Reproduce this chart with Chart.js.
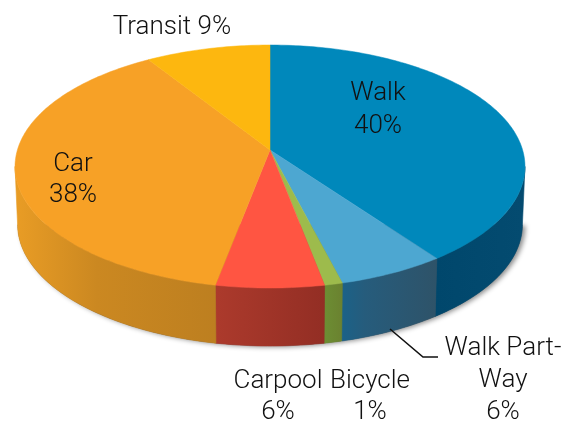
<!DOCTYPE html>
<html><head><meta charset="utf-8">
<style>html,body{margin:0;padding:0;background:#fff}canvas{display:block}</style>
<script src="https://cdn.jsdelivr.net/npm/chart.js@4"></script>
</head><body><canvas id="c" width="576" height="425"></canvas>
<script>
const categories = ["Walk","Walk Part-Way","Bicycle","Carpool","Car","Transit"];
const shares = [40,6,1,6,38,9];
const topColors = ["#0088BB","#4DA7D1","#9DBB4C","#FF5542","#F7A126","#FDB70F"];
const wallLeft = ["#00476C","#1B6288","#6C8E33","#AC3A2C","#E89C25","#FDB70F"];
const wallRight = ["#044B70","#2E5369","#6B8230","#932E24","#BD7F20","#FDB70F"];
const labelLines = [["Walk","40%"],["Walk Part-","Way","6%"],["Bicycle","1%"],["Carpool","6%"],["Car","38%"],["Transit 9%"]];
const labelAt = [[378,100,33],[503,355,32],[370,388,31],[278,388,31],[73,171,31],[172,34,0]];

const SX=1.684, SY=0.795, P=0.136, DEPTH=58, SHRINK=0.99;
function proj(el,a,low){
  const u=Math.cos(a), v=Math.sin(a), d=1-P*v, R=el.outerRadius;
  let x=SX*R*u/d, y=SY*R*v/d;
  if(low){x*=SHRINK; y+=DEPTH;}
  return [el.x+x, el.y+y];
}
function rim(ctx,el,a0,a1,low){
  const n=Math.max(2,Math.ceil(Math.abs(a1-a0)*60));
  for(let i=0;i<=n;i++){const p=proj(el,a0+(a1-a0)*i/n,low);ctx.lineTo(p[0],p[1]);}
}
const pie3d={id:'pie3d',beforeDatasetsDraw(chart){
  const ctx=chart.ctx, els=chart.getDatasetMeta(0).data, T=Math.PI*2;
  const A0=P, A1=Math.PI-P, e0=els[0];
  // soft drop shadow under the body
  ctx.save();
  ctx.shadowColor='rgba(0,0,0,0.45)';ctx.shadowBlur=5;ctx.shadowOffsetX=3;ctx.shadowOffsetY=1;
  ctx.fillStyle='#555';ctx.beginPath();
  rim(ctx,e0,A0,A1,true);ctx.closePath();ctx.fill();
  ctx.restore();
  // side walls
  els.forEach((el,i)=>{
    let s=el.startAngle,e=el.endAngle;
    const spans=[[s,e],[s+T,e+T],[s-T,e-T]];
    spans.forEach(([a,b])=>{
      a=Math.max(a,A0);b=Math.min(b,A1);
      if(b<=a)return;
      const pa=proj(el,a,true),pb=proj(el,b,true);
      const g=ctx.createLinearGradient(pb[0],0,pa[0],0);
      g.addColorStop(0,wallLeft[i]);
      if(i===4){g.addColorStop(0.4,'#CB8821');}
      if(i===1){g.addColorStop(0.25,'#265C7C');}
      g.addColorStop(1,wallRight[i]);
      ctx.fillStyle=g;ctx.strokeStyle=g;ctx.lineWidth=0.6;
      ctx.beginPath();rim(ctx,el,a,b,false);rim(ctx,el,b,a,true);ctx.closePath();ctx.fill();ctx.stroke();
    });
  });
  // top faces
  els.forEach((el,i)=>{
    ctx.fillStyle=topColors[i];ctx.strokeStyle=topColors[i];ctx.lineWidth=0.5;
    ctx.beginPath();ctx.moveTo(el.x,el.y);rim(ctx,el,el.startAngle,el.endAngle,false);ctx.closePath();ctx.fill();ctx.stroke();
  });
  // leader line
  ctx.strokeStyle='#111';ctx.lineWidth=1.6;ctx.beginPath();
  ctx.moveTo(390,329);ctx.lineTo(423,357);ctx.lineTo(438,357);ctx.stroke();
  // labels
  ctx.fillStyle='#111';ctx.textAlign='center';ctx.textBaseline='alphabetic';
  ctx.font='300 26px Roboto, "Liberation Sans", sans-serif';
  labelLines.forEach((lines,i)=>{
    const [x,y,lh]=labelAt[i];
    lines.forEach((t,k)=>ctx.fillText(t,x,y+k*lh));
  });
  return false;
}};
new Chart(document.getElementById('c'),{
  type:'pie',
  data:{labels:categories,datasets:[{data:shares,backgroundColor:topColors,borderWidth:0}]},
  options:{responsive:false,animation:false,events:[],
    layout:{padding:{left:0,right:36,top:0,bottom:125}},
    plugins:{legend:{display:false},tooltip:{enabled:false}}},
  plugins:[pie3d]
});
</script></body></html>
